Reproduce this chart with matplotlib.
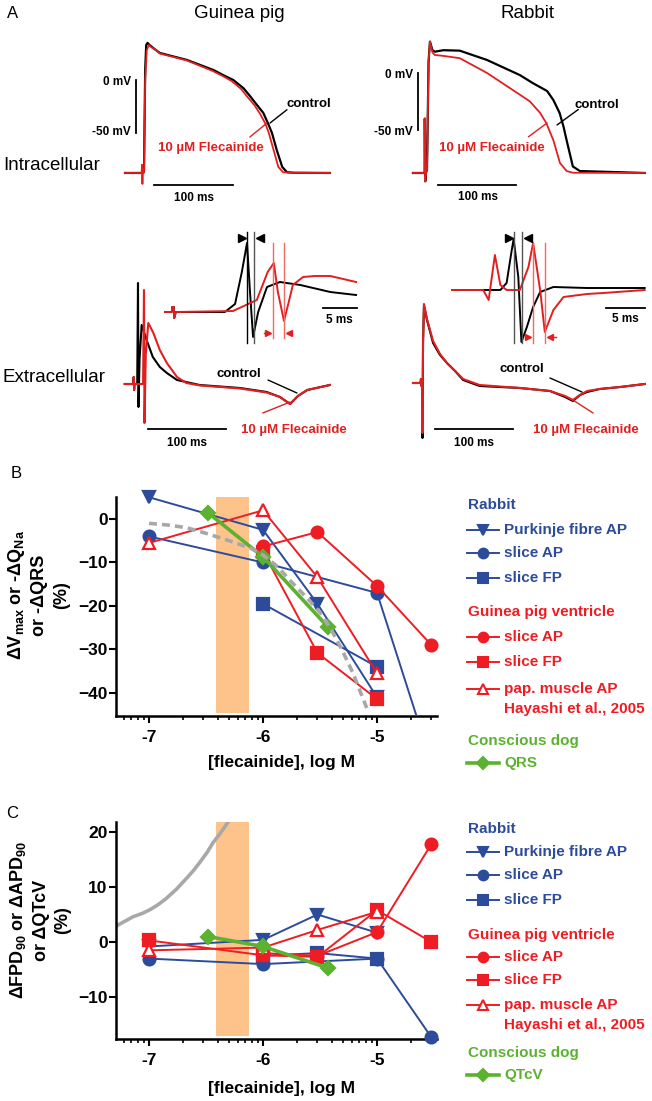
import matplotlib
matplotlib.use("Agg")
import matplotlib.pyplot as plt
import numpy as np
from matplotlib.lines import Line2D
from matplotlib.ticker import FixedLocator, FuncFormatter, NullFormatter, LogLocator

plt.rcParams['font.family'] = ['Liberation Sans', 'DejaVu Sans']
plt.rcParams['font.weight'] = 'bold'
plt.rcParams['mathtext.fontset'] = 'custom'
plt.rcParams['mathtext.rm'] = 'Liberation Sans:bold'
plt.rcParams['mathtext.it'] = 'Liberation Sans:bold'
plt.rcParams['mathtext.bf'] = 'Liberation Sans:bold'
plt.rcParams['mathtext.default'] = 'rm'

BLUE = '#2d4b9b'
RED = '#ee1d23'
GREEN = '#5db131'
GRAY = '#a8a8a8'
ORANGE = '#fdc38a'
TRED = '#e21f1f'

# ---------------- panel A traces (ms, mV / arbitrary units) ----------------
gp_ic_t_ctl = [-24, -1, 0, 1.5, 2.8, 4.5, 7, 12, 20, 54, 88, 100, 113, 126, 134, 143, 151, 157, 162, 168, 175, 181, 190, 235]
gp_ic_v_ctl = [-87.7, -87.7, -86, 10, 33, 35, 33, 30, 25.5, 19, 9.4, 4.7, 0, -7.8, -15, -23.6, -31, -41, -50, -66, -82, -87, -87.5, -87.7]
gp_ic_t_fle = [-24, -3, -2.5, -2, -1.5, -1, 0, 1.5, 3.5, 6, 9, 14, 20, 54, 87, 99, 111, 123, 131, 140, 147, 153.5, 158, 164, 170, 176, 186, 235]
gp_ic_v_fle = [-87.7, -87.7, -80, -98, -84, -88, -87, 0, 28, 33, 31, 29, 25, 18.5, 8.5, 4, -1, -8.5, -16, -24, -32, -41, -50, -66, -82, -87, -87.5, -87.7]

rb_ic_t_ctl = [-18, -3, -2.8, -2.2, -1.5, 0, 2, 3.8, 7, 10, 21, 42, 77, 119, 136, 154, 162, 170, 175, 179, 187, 196, 279]
rb_ic_v_ctl = [-87.7, -87.7, -40, -95, -87.7, -85, 10, 27.5, 20, 18.7, 20, 19.6, 11.4, -1.8, -9, -15.8, -23.7, -35, -47, -59, -82, -86, -87.7]
rb_ic_t_fle = [-18, -3, -2.8, -2.2, -1.5, 0, 2, 3.8, 7, 10, 21, 42, 77, 119, 132, 145, 153, 162, 170.5, 179, 187, 279]
rb_ic_v_fle = [-87.7, -87.7, -40, -95, -87.7, -85, 10, 27.5, 18, 15.8, 15, 13, 0, -19, -25, -35, -44, -59, -79, -86, -87.5, -87.7]

gp_ec_t_ctl = [-17, -6, -5.5, -5, -4.5, -1, 0, 0.6, 2, 4.7, 11, 19, 28, 37, 50, 79, 131, 165, 182, 195, 205, 217, 246]
gp_ec_a_ctl = [0, 0, 7, -6, 0, 0, 101, -23, 25, 59, 44, 27, 17, 11, 4, -1, -4, -8, -13, -20, -12, -6, -1]
gp_ec_t_fle = [-17, -6, -5.5, -5, -4.5, 6.5, 7.7, 8.3, 10, 13.2, 19.7, 28, 37, 50, 62, 80, 131, 165, 182, 195, 205, 217, 246]
gp_ec_a_fle = [0, 0, 7, -6, 0, 0, 94, -39, 30, 61, 51, 34, 21, 7, 1, -1.5, -4.5, -8.5, -13, -20, -12, -6, -1]

gp_in_t_ctl = [0, 1.0, 1.05, 1.3, 1.35, 1.6, 8.8, 10.3, 11.3, 12.06, 12.5, 12.95, 13.7, 15.0, 16.9, 19.9, 24.3, 28.1]
gp_in_a_ctl = [0, 0, 5, 5, -6, 0, 0, 8, 40, 69, 20, -25, 0, 25, 30, 27, 20, 17]
gp_in_t_fle = [0, 1.0, 1.05, 1.3, 1.35, 1.6, 10, 13.5, 15.1, 16.0, 16.6, 17.5, 18.2, 18.8, 20.3, 22, 24.3, 28.1]
gp_in_a_fle = [0, 0, 5, 5, -6, 0, 1, 12, 40, 49, 20, -9, 10, 27, 35, 36, 36, 30]

rb_ec_t_ctl = [-11.4, -2, -1.3, -0.6, 0, 0.6, 1.3, 2.5, 4, 6.3, 14, 22.8, 31.6, 41.8, 52, 73, 124, 162, 181, 191, 200, 209, 225, 251, 282]
rb_ec_a_ctl = [0, 0, 4, -3, 0, -55, 40, 77, 72, 63, 40, 28, 20, 12, 3, -3, -5, -8, -14, -18, -12, -9, -6, -4, -1]
rb_ec_t_fle = [-11.4, -2, -1.3, -0.6, 0, 0.6, 1.3, 2.5, 4, 6.3, 14, 22.8, 31.6, 41.8, 52, 73, 124, 162, 181, 191, 200, 209, 225, 251, 282]
rb_ec_a_fle = [0, 0, 4, -3, 0, -50, 40, 79, 73, 64, 42, 29, 20, 12, 4, -2, -5, -8, -13, -17, -12, -8, -6, -4, -1]

rb_in_t_ctl = [0, 6.2, 7.0, 7.6, 7.9, 8.5, 8.9, 9.6, 10.4, 11.3, 13, 17.3, 24.7]
rb_in_a_ctl = [0, 0, 7, 37, 51, 13, -52, -37, -17, -2, 3, 2, 2]
rb_in_t_fle = [0, 4.0, 4.7, 5.5, 6.2, 7.0, 8.7, 9.8, 10.4, 11.3, 11.9, 13, 14.3, 17.3, 19.4, 24.7]
rb_in_a_fle = [0, 0, -10, 35, 5, 0, 0, 23, 47, 0, -42, -20, -7, -4, -3, 0]

# ---------------- panels B / C data ----------------
conc4 = [1e-7, 1e-6, 3e-6, 1e-5]
conc_ap = [1e-7, 1e-6, 1e-5, 3e-5]
dog_conc = [0.33e-6, 1.0e-6, 3.7e-6]
band = [0.39e-6, 0.76e-6]

# B: dVmax / dQNa / dQRS (%)
b_rb_purk = [5, -2.5, -19.5, -41]
b_rb_ap = [-4, -10, -17, -56]
b_rb_fp_c, b_rb_fp = [1e-6, 1e-5], [-19.5, -34]
b_gp_ap_c, b_gp_ap = [1e-6, 3e-6, 1e-5, 3e-5], [-6.3, -3, -15.4, -29]
b_gp_fp_c, b_gp_fp = [1e-6, 3e-6, 1e-5], [-7.5, -30.8, -41.4]
b_gp_pap = [-5.5, 2, -13.4, -35.5]
b_dog_qrs = [1.4, -8.7, -24.8]
b_fit_logc = [-7.0, -6.83, -6.67, -6.5, -6.32, -6.11, -6.0, -5.87, -5.75, -5.62, -5.5, -5.39, -5.3, -5.21, -5.15, -5.09]
b_fit = [-1.0, -1.4, -2.0, -3.3, -4.8, -6.7, -8.3, -11, -14.5, -18, -21.5, -26, -30.5, -35.5, -39.5, -43.5]

# C: dFPD90 / dAPD90 / dQTcV (%)
c_rb_purk = [-0.8, 0.4, 5, 1.7]
c_rb_ap = [-3, -4, -3, -17.3]
c_rb_fp_c, c_rb_fp = [1e-6, 3e-6, 1e-5], [-2.5, -2, -3]
c_gp_ap_c, c_gp_ap = [1e-6, 3e-6, 1e-5, 3e-5], [-2, -2.5, 1.8, 17.8]
c_gp_fp_c, c_gp_fp = [1e-7, 1e-6, 3e-6, 1e-5, 3e-5], [0.3, -2.4, -2.7, 5.8, 0]
c_gp_pap = [-1.5, -1, 2.2, 5.5]
c_dog_qtc = [1, -0.8, -4.7]
c_fit_logc = [-7.29, -7.21, -7.14, -7.06, -6.99, -6.92, -6.85, -6.76, -6.67, -6.61, -6.55, -6.49, -6.44, -6.37, -6.30, -6.25]
c_fit = [2.9, 3.8, 4.6, 5.2, 5.9, 6.8, 7.9, 9.6, 11.6, 13.0, 14.6, 16.3, 18.0, 19.9, 22.0, 24.0]

W, H = 652, 1101
fig = plt.figure(figsize=(W / 100, H / 100), dpi=100)


def box(l, t, r, b):
    return [l / W, 1 - b / H, (r - l) / W, (b - t) / H]


def ftext(x, y, s, **kw):
    fig.text(x / W, 1 - y / H, s, **kw)


def trace_ax(l, t, r, b, x0, y0, sx, sy):
    ax = fig.add_axes(box(l, t, r, b))
    ax.set_xlim((l - x0) / sx, (r - x0) / sx)
    ax.set_ylim((y0 - b) / sy, (y0 - t) / sy)
    ax.axis('off')
    return ax


def leader(ax, p0, p1, color):
    ax.annotate('', xy=p1, xytext=p0, arrowprops=dict(arrowstyle='-', color=color, lw=1.0,
                                                      shrinkA=0, shrinkB=0))


# ---- titles
ftext(13, 14, 'A', fontsize=12, fontweight='normal', ha='center', va='center')
ftext(239, 14, 'Guinea pig', fontsize=13.5, fontweight='normal', ha='center', va='center')
ftext(527, 14, 'Rabbit', fontsize=13.5, fontweight='normal', ha='center', va='center')
ftext(3, 165, 'Intracellular', fontsize=13.5, fontweight='normal', ha='left', va='center')
ftext(3, 378, 'Extracellular', fontsize=13.5, fontweight='normal', ha='left', va='center')

# ---- guinea pig intracellular
ax = trace_ax(118, 30, 338, 210, 144, 80, 0.79, 1.06)
ax.plot(gp_ic_t_ctl, gp_ic_v_ctl, color='black', lw=1.6)
ax.plot(gp_ic_t_fle, gp_ic_v_fle, color=TRED, lw=1.3)
ax.plot([-10.1, -10.1], [0, -50], color='black', lw=1.3)
ax.plot([12.7, 112.7], [-99, -99], color='black', lw=1.3)
ax.text(-16.5, -2, '0 mV', fontsize=8.5, ha='right', va='center')
ax.text(-16.5, -49, '-50 mV', fontsize=8.5, ha='right', va='center')
ax.text(63, -111, '100 ms', fontsize=8.5, ha='center', va='center')
ax.text(209, -22.6, 'control', fontsize=9.5, ha='center', va='center')
leader(ax, (181, -28), (159.5, -40.6), 'black')
ax.text(84.8, -64, '10 µM Flecainide', fontsize=9.5, color=TRED, ha='center', va='center')
leader(ax, (134, -53.8), (155.7, -40.6), TRED)

# ---- rabbit intracellular
ax = trace_ax(400, 30, 650, 210, 427, 73, 0.78, 1.14)
ax.plot(rb_ic_t_ctl, rb_ic_v_ctl, color='black', lw=1.6)
ax.plot(rb_ic_t_fle, rb_ic_v_fle, color=TRED, lw=1.3)
ax.plot([-11.5, -11.5], [0, -50], color='black', lw=1.3)
ax.plot([14.1, 114.1], [-98, -98], color='black', lw=1.3)
ax.text(-18, -1.8, '0 mV', fontsize=8.5, ha='right', va='center')
ax.text(-18, -51.8, '-50 mV', fontsize=8.5, ha='right', va='center')
ax.text(65.4, -108.8, '100 ms', fontsize=8.5, ha='center', va='center')
ax.text(218, -28, 'control', fontsize=9.5, ha='center', va='center')
leader(ax, (194, -32), (166.7, -45.6), 'black')
ax.text(83.3, -65.8, '10 µM Flecainide', fontsize=9.5, color=TRED, ha='center', va='center')
leader(ax, (130, -56), (153.8, -43.9), TRED)

# ---- guinea pig extracellular
ax = trace_ax(118, 270, 360, 455, 138, 384, 0.78, 1.0)
ax.plot(gp_ec_t_ctl, gp_ec_a_ctl, color='black', lw=1.5)
ax.plot(gp_ec_t_fle, gp_ec_a_fle, color=TRED, lw=1.5)
ax.plot([12.8, 112.8], [-45, -45], color='black', lw=1.3)
ax.text(62.8, -59, '100 ms', fontsize=8.5, ha='center', va='center')
ax.text(129.5, 10, 'control', fontsize=9.5, ha='center', va='center')
leader(ax, (166.7, 4), (203.8, -9), 'black')
ax.text(200, -46, '10 µM Flecainide', fontsize=9.5, color=TRED, ha='center', va='center')
leader(ax, (160, -29), (195, -18), TRED)

# ---- guinea pig inset
ax = trace_ax(160, 225, 362, 350, 165, 312, 6.8, 1.0)
ax.plot(gp_in_t_ctl, gp_in_a_ctl, color='black', lw=1.4)
ax.plot(gp_in_t_fle, gp_in_a_fle, color=TRED, lw=1.4)
ax.plot([12.06, 12.06], [-31, 80], color='black', lw=1.0)
ax.plot([13.1, 13.1], [-31, 80], color='#555555', lw=1.0)
ax.plot([15.9, 15.9], [-26, 69], color='#f06a60', lw=1.0)
ax.plot([17.5, 17.5], [-26, 69], color='#f06a60', lw=1.0)
ax.plot([11.3], [74], marker='>', color='black', ms=6)
ax.plot([13.9], [74], marker='<', color='black', ms=6)
ax.plot([14.5, 15.2], [-21, -21], color=TRED, lw=1.0)
ax.plot([15.2], [-21], marker='>', color=TRED, ms=5)
ax.plot([18.3], [-21], marker='<', color=TRED, ms=5)
ax.plot([23.2, 28.2], [4, 4], color='black', lw=1.3)
ax.text(25.7, -8, '5 ms', fontsize=8.5, ha='center', va='center')

# ---- rabbit extracellular
ax = trace_ax(405, 270, 650, 455, 422, 383, 0.79, 1.0)
ax.plot(rb_ec_t_ctl, rb_ec_a_ctl, color='black', lw=1.5)
ax.plot(rb_ec_t_fle, rb_ec_a_fle, color=TRED, lw=1.5)
ax.plot([16.5, 115.5], [-46, -46], color='black', lw=1.3)
ax.text(65.8, -60, '100 ms', fontsize=8.5, ha='center', va='center')
ax.text(126.6, 14, 'control', fontsize=9.5, ha='center', va='center')
leader(ax, (162, 5), (202.5, -9), 'black')
ax.text(207.6, -47, '10 µM Flecainide', fontsize=9.5, color=TRED, ha='center', va='center')
leader(ax, (216.5, -30), (191, -17), TRED)

# ---- rabbit inset
ax = trace_ax(445, 225, 650, 350, 452, 290, 7.8, 1.0)
ax.plot(rb_in_t_ctl, rb_in_a_ctl, color='black', lw=1.4)
ax.plot(rb_in_t_fle, rb_in_a_fle, color=TRED, lw=1.4)
ax.plot([7.95, 7.95], [-53, 58], color='#555555', lw=1.0)
ax.plot([8.97, 8.97], [-53, 58], color='#555555', lw=1.0)
ax.plot([10.4, 10.4], [-53, 47], color='#f06a60', lw=1.0)
ax.plot([11.9, 11.9], [-53, 47], color='#f06a60', lw=1.0)
ax.plot([7.3], [52], marker='>', color='black', ms=6)
ax.plot([9.7], [52], marker='<', color='black', ms=6)
ax.plot([9.7], [-47], marker='>', color=TRED, ms=5)
ax.plot([12.6], [-47], marker='<', color=TRED, ms=5)
ax.plot([12.6, 13.3], [-47, -47], color=TRED, lw=1.0)
ax.plot([19.7, 24.7], [-18, -18], color='black', lw=1.3)
ax.text(22.2, -29, '5 ms', fontsize=8.5, ha='center', va='center')


# ---------------- panels B and C ----------------
def style_axis(ax, ylim, yticks):
    ax.set_xscale('log')
    ax.set_xlim(10 ** -7.29, 10 ** -4.474)
    ax.set_ylim(*ylim)
    ax.set_yticks(yticks)
    ax.xaxis.set_major_locator(FixedLocator([1e-7, 1e-6, 1e-5]))
    ax.xaxis.set_major_formatter(FuncFormatter(lambda v, p: '%d' % round(np.log10(v))))
    ax.xaxis.set_minor_locator(LogLocator(base=10, subs=np.arange(2, 10)))
    ax.xaxis.set_minor_formatter(NullFormatter())
    for s in ['top', 'right']:
        ax.spines[s].set_visible(False)
    for s in ['left', 'bottom']:
        ax.spines[s].set_linewidth(1.8)
    ax.tick_params(axis='both', which='major', length=5, width=1.5, labelsize=12.5)
    ax.tick_params(axis='x', which='minor', length=3, width=1.2)
    ax.tick_params(axis='x', which='major', pad=5)
    ax.tick_params(axis='y', which='major', pad=1)
    ax.axvspan(band[0], band[1], ymin=0.012, ymax=1, color=ORANGE, lw=0, zorder=0)


def series(ax, x, y, color, marker, filled=True, ms=8.5, lw=1.4, clip=False):
    ax.plot(x, y, color=color, lw=lw, marker=marker, ms=ms, mfc=color if filled else 'white',
            mec=color, mew=1.6, clip_on=clip, zorder=3)


axB = fig.add_axes(box(116, 497, 437, 716))
style_axis(axB, (-45.3, 5.06), [-40, -30, -20, -10, 0])
series(axB, conc4, b_rb_purk, BLUE, 'v')
series(axB, conc_ap, b_rb_ap, BLUE, 'o', clip=True)
series(axB, b_rb_fp_c, b_rb_fp, BLUE, 's', ms=8)
series(axB, b_gp_ap_c, b_gp_ap, RED, 'o')
series(axB, b_gp_fp_c, b_gp_fp, RED, 's', ms=8)
series(axB, conc4, b_gp_pap, RED, '^', filled=False, ms=9)
series(axB, dog_conc, b_dog_qrs, GREEN, 'D', ms=7, lw=2.6)
axB.plot(10 ** np.array(b_fit_logc), b_fit, color=GRAY, lw=2.6, dashes=(2.2, 1.4), zorder=4)

axC = fig.add_axes(box(116, 822, 437, 1039))
style_axis(axC, (-17.6, 21.8), [-10, 0, 10, 20])
axC.plot(10 ** np.array(c_fit_logc), c_fit, color=GRAY, lw=2.6, zorder=2)
series(axC, conc4, c_rb_purk, BLUE, 'v')
series(axC, conc_ap, c_rb_ap, BLUE, 'o')
series(axC, c_rb_fp_c, c_rb_fp, BLUE, 's', ms=8)
series(axC, c_gp_ap_c, c_gp_ap, RED, 'o')
series(axC, c_gp_fp_c, c_gp_fp, RED, 's', ms=8)
series(axC, conc4, c_gp_pap, RED, '^', filled=False, ms=9)
series(axC, dog_conc, c_dog_qtc, GREEN, 'D', ms=7, lw=2.6)

ftext(16, 474, 'B', fontsize=12, fontweight='normal', ha='center', va='center')
ftext(12, 813, 'C', fontsize=12, fontweight='normal', ha='center', va='center')
ftext(38, 595, 'ΔV$_{max}$ or -ΔQ$_{Na}$\nor -ΔQRS\n(%)', fontsize=13, rotation=90,
      ha='center', va='center', ma='center', linespacing=1.35)
ftext(40, 920, 'ΔFPD$_{90}$ or ΔAPD$_{90}$\nor ΔQTcV\n(%)', fontsize=13, rotation=90,
      ha='center', va='center', ma='center', linespacing=1.35)
ftext(282, 763, '[flecainide], log M', fontsize=12.5, ha='center', va='center')
ftext(282, 1088, '[flecainide], log M', fontsize=12.5, ha='center', va='center')


# ---------------- legends ----------------
def legend(ys, dog_label):
    heads = [('Rabbit', BLUE), ('Guinea pig ventricle', RED), ('Conscious dog', GREEN)]
    rows = [('Purkinje fibre AP', BLUE, 'v', True), ('slice AP', BLUE, 'o', True),
            ('slice FP', BLUE, 's', True), ('slice AP', RED, 'o', True),
            ('slice FP', RED, 's', True), ('pap. muscle AP', RED, '^', False),
            (dog_label, GREEN, 'D', True)]
    for (txt, c), y in zip(heads, ys[0]):
        ftext(468, y, txt, fontsize=11, color=c, ha='left', va='center')
    for (txt, c, m, filled), y in zip(rows, ys[1]):
        lw = 2.6 if c == GREEN else 1.4
        fig.add_artist(Line2D([467 / W, 499 / W], [1 - y / H, 1 - y / H], color=c, lw=lw,
                              transform=fig.transFigure))
        fig.add_artist(Line2D([483 / W], [1 - y / H], marker=m, ms=7 if m != 'D' else 6.5,
                              color=c, mfc=c if filled else 'white', mec=c, mew=1.5,
                              transform=fig.transFigure))
        ftext(504, y, txt, fontsize=11, color=c, ha='left', va='center')
    ftext(504, ys[2], 'Hayashi et al., 2005', fontsize=11, color=RED, ha='left', va='center')


legend(([505, 612, 741], [530, 553, 578, 637, 662, 689, 763], 709), 'QRS')
legend(([829, 935, 1053], [852, 875, 900, 957, 980, 1005, 1075], 1025), 'QTcV')

fig.savefig('out.png', dpi=100)
